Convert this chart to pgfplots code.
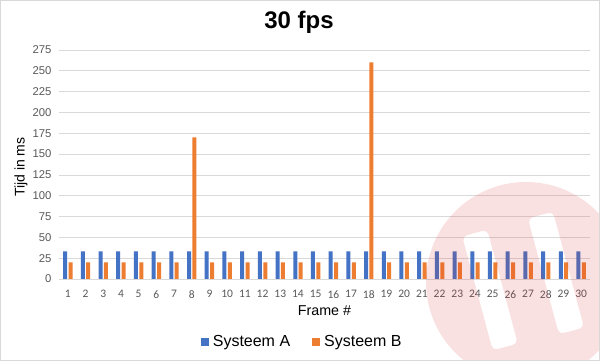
\documentclass[border=0pt]{standalone}
\usepackage{pgfplots}
\pgfplotsset{compat=1.18}
\usepackage{fontspec}
\setmainfont{Liberation Sans}
\newfontfamily\carlito{Carlito}
\definecolor{sysA}{RGB}{68,114,196}
\definecolor{sysB}{RGB}{237,125,49}
\definecolor{gridgray}{RGB}{217,217,217}
\definecolor{ticktext}{RGB}{89,89,89}
\definecolor{wm}{RGB}{225,45,45}
\pgfplotstableread{
x A B
1 33.3 20
2 33.3 20
3 33.3 20
4 33.3 20
5 33.3 20
6 33.3 20
7 33.3 20
8 33.3 170
9 33.3 20
10 33.3 20
11 33.3 20
12 33.3 20
13 33.3 20
14 33.3 20
15 33.3 20
16 33.3 20
17 33.3 20
18 33.3 260
19 33.3 20
20 33.3 20
21 33.3 20
22 33.3 20
23 33.3 20
24 33.3 20
25 33.3 20
26 33.3 20
27 33.3 20
28 33.3 20
29 33.3 20
30 33.3 20
}\datatable
\begin{document}
\begin{tikzpicture}
\path[use as bounding box] (0,0) rectangle (600pt,361pt);
\fill[white] (0,0) rectangle (600pt,361pt);
\begin{axis}[
  at={(59pt,82pt)}, anchor=south west,
  scale only axis, width=531pt, height=229pt,
  xmin=0.5, xmax=30.5, ymin=0, ymax=275,
  ytick={0,25,...,275},
  xtick={1,...,30},
  ymajorgrids,
  grid style={line width=0.8pt, draw=gridgray},
  axis x line*=bottom, axis y line*=left,
  x axis line style={draw=gridgray, line width=0.8pt, -},
  y axis line style={draw=none},
  major tick length=0pt,
  /pgf/number format/assume math mode=true,
  yticklabel style={font=\fontsize{11.3}{13}\selectfont, text=ticktext, xshift=-4pt},
  xticklabel style={font=\carlito\fontsize{11.5}{13}\selectfont, text=ticktext, yshift=-8pt},
  ybar, bar width=4pt,
  every axis title shift=0pt,
  title={\bfseries 30 fps},
  title style={font=\fontsize{24}{28}\selectfont, at={(axis description cs:0.452,1.096)}, anchor=base},
  xlabel={Frame \#},
  xlabel style={font=\fontsize{14.3}{17}\selectfont, at={(axis description cs:0.5,-0.14)}, anchor=center},
  ylabel={Tijd in ms},
  ylabel style={font=\fontsize{14}{17}\selectfont, at={(axis description cs:-0.0716,0.489)}, anchor=center, rotate=0},
  legend style={draw=none, fill=none, at={(axis description cs:0.458,-0.275)}, anchor=center,
    font=\fontsize{16}{19}\selectfont, legend columns=2,
    /tikz/every odd column/.append style={column sep=2pt},
    /tikz/every even column/.append style={column sep=20pt}},
  legend image code/.code={\fill (0pt,-4pt) rectangle (8pt,4pt);},
]
\addplot[fill=sysA, draw=none, bar shift=-2.7pt] table[x=x, y=A] {\datatable};
\addlegendentry{Systeem A}
\addplot[fill=sysB, draw=none, bar shift=2.7pt] table[x=x, y=B] {\datatable};
\addlegendentry{Systeem B}
\end{axis}
\begin{scope}
\clip (0,0) rectangle (600pt,361pt);
\fill[wm, opacity=0.14, even odd rule, rounded corners=5pt]
  (526pt,79pt) circle (100pt)
  {[rotate around={15:(490pt,71pt)}] (477pt,12pt) rectangle (503pt,130pt)}
  {[rotate around={15:(556pt,88pt)}] (543pt,28pt) rectangle (569pt,148pt)};
\end{scope}
\draw[gridgray, line width=0.8pt] (0.4pt,0.4pt) rectangle (599.6pt,360.6pt);
\end{tikzpicture}
\end{document}
